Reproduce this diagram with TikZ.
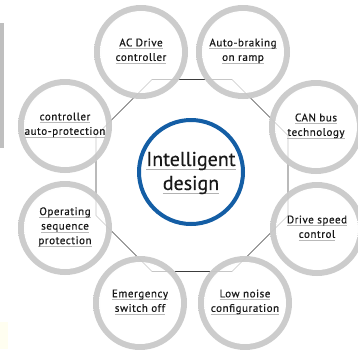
\documentclass[tikz,border=0pt]{standalone}
\usepackage{fontspec}
\setmainfont{PT Sans}
\newfontfamily\labfont[LetterSpace=5,FakeBold=0.6]{PT Sans}
\newfontfamily\corefont[FakeBold=0.4]{PT Sans}
\definecolor{ringblue}{RGB}{20,94,165}
\definecolor{txt}{RGB}{25,25,25}
\definecolor{octline}{RGB}{60,60,60}
\newcommand\ulx[1]{\setbox0\hbox{#1}\leavevmode\rlap{\color{gray!55}\rule[-2.6pt]{\wd0}{0.6pt}}\box0}
\newcommand\ulc[1]{\setbox0\hbox{#1}\leavevmode\rlap{\color{gray!60}\rule[-4pt]{\wd0}{0.8pt}}\box0}
\pgfdeclareradialshading{ringsh}{\pgfpoint{0bp}{0bp}}{color(0bp)=(gray!40); color(40bp)=(gray!40); color(43.5bp)=(gray!25); color(46bp)=(gray!40); color(50bp)=(gray!55)}
\pgfdeclareradialshading{discsh}{\pgfpoint{0bp}{0bp}}{color(0bp)=(white); color(24bp)=(white); color(50bp)=(gray!30)}
\newcommand\bubblebg[2]{%
  \shade[shading=ringsh] (#1,#2) circle (47);
  \shade[shading=discsh] (#1,#2) circle (41);
  \fill[white,shift={(#1,#2)}] (0,-13) ellipse (27 and 20);
}
\tikzset{
  lab/.style={font=\labfont\fontsize{11}{14.5}\selectfont, text=txt, align=center, inner sep=0pt},
  octedge/.style={draw=octline, line width=0.6pt},
  octlight/.style={draw=gray!45, line width=0.6pt}
}
\begin{document}
\begin{tikzpicture}[x=1pt,y=-1pt]
\useasboundingbox (0,0) rectangle (358,349);
\fill[white] (0,0) rectangle (358,349);
\fill[gray!50] (0,23) rectangle (3.5,148);
\fill[yellow!6] (0,322) rectangle (8,349);
% octagon vertices
\coordinate (v1) at (152,79.5);
\coordinate (v2) at (232,79.5);
\coordinate (v3) at (288,135.5);
\coordinate (v4) at (288,215.5);
\coordinate (v5) at (232,271.5);
\coordinate (v6) at (152,271.5);
\coordinate (v7) at (96,215.5);
\coordinate (v8) at (96,135.5);
\draw[octedge] (v1) -- (v2) -- (v3) -- (v4) -- (v5) -- (v6) -- (v7) -- (v8) -- cycle;
% bubbles
\bubblebg{141}{52}
\bubblebg{243}{52}
\bubblebg{316}{127}
\bubblebg{317}{229}
\bubblebg{245}{303}
\bubblebg{140}{303}
\bubblebg{65}{228}
\bubblebg{65}{126}
\begin{scope}
  \clip (141,52) circle (47) (243,52) circle (47) (316,127) circle (47) (317,229) circle (47)
        (245,303) circle (47) (140,303) circle (47) (65,228) circle (47) (65,126) circle (47);
  \draw[octlight] (v1) -- (v2) -- (v3) -- (v4) -- (v5) -- (v6) -- (v7) -- (v8) -- cycle;
\end{scope}
\node[lab] (c1) at (141,51) {\ulx{AC Drive}\\\ulx{controller}};
\node[lab] (c2) at (243,51) {\ulx{Auto-braking}\\\ulx{on ramp}};
\node[lab] (c3) at (316,126) {\ulx{CAN bus}\\\ulx{technology}};
\node[lab] (c4) at (317,228) {\ulx{Drive speed}\\\ulx{control}};
\node[lab] (c5) at (245,302) {\ulx{Low noise}\\\ulx{configuration}};
\node[lab] (c6) at (140,302) {\ulx{Emergency}\\\ulx{switch off}};
\node[lab] (c7) at (65,227) {\ulx{Operating}\\\ulx{sequence}\\\ulx{protection}};
\node[lab] (c8) at (65,125) {\ulx{controller}\\\ulx{auto-protection}};
% center
\draw[ringblue, line width=4pt, fill=white] (191,172) circle (52);
\node[font=\corefont\fontsize{20}{24}\selectfont, text=txt, align=center, inner sep=0pt] (core) at (191,173) {\ulc{Intelligent}\\\ulc{design}};
\end{tikzpicture}
\end{document}
